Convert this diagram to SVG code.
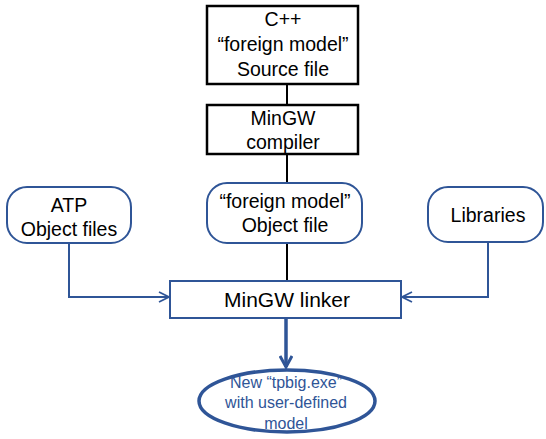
<svg xmlns="http://www.w3.org/2000/svg" width="546" height="439" viewBox="0 0 546 439">
<defs>
<style>
text{font-family:"Liberation Sans",Arial,sans-serif;text-anchor:middle;fill:#000}
.bk{fill:#fff;stroke:#000;stroke-width:2.5}
.rb{fill:#fff;stroke:#2f5597;stroke-width:2}
.t{font-size:19.5px}
.blk{stroke:#000;stroke-width:2;fill:none}
.nv{stroke:#2f5597;stroke-width:2;fill:none}
.el{fill:#fff;stroke:#2f5597;stroke-width:3.5}
.et{font-size:16px;fill:#2f5597}
</style>
<marker id="ah" viewBox="0 0 12 12" refX="11" refY="6" markerWidth="12" markerHeight="12" markerUnits="userSpaceOnUse" orient="auto">
<path d="M1,1 L11,6 L1,11" fill="none" stroke="#2f5597" stroke-width="1.8"/>
</marker>
<marker id="ah2" viewBox="0 0 14 14" refX="12" refY="7" markerWidth="14" markerHeight="14" markerUnits="userSpaceOnUse" orient="auto">
<path d="M1,1 L12,7 L1,13" fill="none" stroke="#2f5597" stroke-width="3"/>
</marker>
</defs>
<g id="connectors">
<line class="blk" x1="287" y1="84" x2="287" y2="105"/>
<line class="blk" x1="287" y1="154" x2="287" y2="184"/>
<line class="blk" x1="287" y1="243" x2="287" y2="281"/>
<path class="nv" d="M69,243 V297 H169" marker-end="url(#ah)"/>
<path class="nv" d="M488,242 V297 H402" marker-end="url(#ah)"/>
<line x1="286" y1="318" x2="286" y2="367" stroke="#2f5597" stroke-width="3.5" marker-end="url(#ah2)"/>
</g>
<g id="source">
<rect class="bk" x="207" y="6" width="151" height="78"/>
<text class="t" x="283" y="26">C++</text>
<text class="t" x="283" y="51">“foreign model”</text>
<text class="t" x="283" y="76">Source file</text>
</g>
<g id="compiler">
<rect class="bk" x="207" y="105" width="151" height="49"/>
<text class="t" x="283" y="125">MinGW</text>
<text class="t" x="283" y="149">compiler</text>
</g>
<g id="atp">
<rect class="rb" x="7" y="187" width="124" height="56" rx="20"/>
<text class="t" x="69" y="212">ATP</text>
<text class="t" x="69" y="236">Object files</text>
</g>
<g id="objfile">
<rect class="rb" x="207" y="183" width="155" height="60" rx="20"/>
<text class="t" x="285" y="208">“foreign model”</text>
<text class="t" x="285" y="232">Object file</text>
</g>
<g id="libraries">
<rect class="rb" x="428" y="187" width="115" height="55" rx="20"/>
<text class="t" x="488" y="222">Libraries</text>
</g>
<g id="linker">
<rect class="rb" x="170" y="281" width="231" height="37" rx="0"/>
<text x="287" y="307" font-size="21px">MinGW linker</text>
</g>
<g id="exe">
<ellipse class="el" cx="287" cy="401" rx="88" ry="31"/>
<text class="et" x="286" y="388">New “tpbig.exe”</text>
<text class="et" x="286" y="408">with user-defined</text>
<text class="et" x="286" y="429">model</text>
</g>
</svg>
